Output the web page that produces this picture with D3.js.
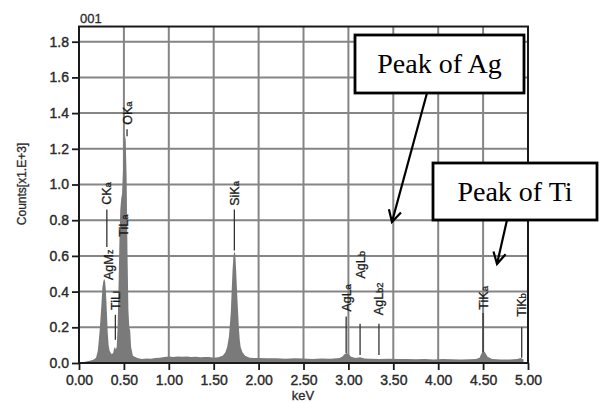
<!DOCTYPE html>
<html>
<head>
<meta charset="utf-8">
<script src="https://cdn.jsdelivr.net/npm/d3@7"></script>
<style>
  body { margin: 0; background: #fff; }
  svg { display: block; }
</style>
</head>
<body>
<div id="chart"></div>
<script>
// spectrum (keV, counts x1E+3)
const energy = [0.00, 0.04, 0.08, 0.12, 0.16, 0.19, 0.21, 0.23, 0.25, 0.26, 0.27, 0.28, 0.29, 0.30, 0.31, 0.32, 0.33, 0.34, 0.36, 0.38,
  0.39, 0.40, 0.41, 0.42, 0.43, 0.44, 0.45, 0.46, 0.47, 0.48, 0.49, 0.50, 0.51, 0.52, 0.53, 0.54, 0.55, 0.56, 0.57, 0.58,
  0.60, 0.65, 0.70, 0.75, 0.80, 0.85, 0.90, 0.95, 1.00, 1.05, 1.10, 1.15, 1.20, 1.25, 1.30, 1.35, 1.40, 1.45, 1.50, 1.55,
  1.60, 1.63, 1.65, 1.67, 1.69, 1.70, 1.71, 1.72, 1.73, 1.74, 1.75, 1.76, 1.77, 1.78, 1.79, 1.80, 1.82, 1.85, 1.90, 1.95,
  2.00, 2.10, 2.20, 2.30, 2.40, 2.50, 2.60, 2.70, 2.80, 2.90, 2.93, 2.96, 2.98, 3.00, 3.03, 3.08, 3.13, 3.18, 3.25, 3.35,
  3.45, 3.55, 3.65, 3.75, 3.85, 3.95, 4.05, 4.15, 4.25, 4.35, 4.42, 4.46, 4.48, 4.50, 4.52, 4.55, 4.60, 4.70, 4.80, 4.88,
  4.92, 4.95];
const counts = [0.000, 0.004, 0.008, 0.012, 0.018, 0.030, 0.070, 0.180, 0.330, 0.420, 0.455, 0.470, 0.460, 0.400, 0.290, 0.170, 0.100, 0.070, 0.050, 0.055,
  0.080, 0.090, 0.075, 0.090, 0.200, 0.420, 0.680, 0.860, 0.920, 0.950, 1.080, 1.220, 1.285, 1.250, 1.050, 0.620, 0.300, 0.200, 0.180, 0.090,
  0.040, 0.028, 0.022, 0.025, 0.024, 0.028, 0.030, 0.033, 0.036, 0.034, 0.037, 0.035, 0.036, 0.033, 0.035, 0.032, 0.034, 0.033, 0.030, 0.032,
  0.040, 0.060, 0.090, 0.150, 0.280, 0.400, 0.520, 0.600, 0.625, 0.610, 0.520, 0.400, 0.300, 0.200, 0.130, 0.090, 0.060, 0.040, 0.030, 0.028,
  0.028, 0.026, 0.027, 0.024, 0.026, 0.025, 0.023, 0.025, 0.024, 0.028, 0.035, 0.050, 0.055, 0.050, 0.035, 0.028, 0.032, 0.025, 0.024, 0.023,
  0.024, 0.022, 0.023, 0.021, 0.022, 0.020, 0.022, 0.021, 0.020, 0.021, 0.022, 0.030, 0.050, 0.068, 0.060, 0.035, 0.022, 0.020, 0.020, 0.022,
  0.028, 0.020];

// peak markers: name, small suffix, energy, label centre (counts), line top / bottom (counts)
const peakName   = ["CK", "AgM", "TiL", "TiL", "OK", "SiK", "AgL", "AgL", "AgL", "TiK", "TiK"];
const peakSub    = ["a", "z", "a", "l", "a", "a", "a", "b", "b2", "a", "b"];
const peakKeV    = [0.31, 0.325, 0.49, 0.405, 0.535, 1.73, 2.975, 3.13, 3.34, 4.50, 4.93];
const peakLabel  = [0.95, 0.55, 0.77, 0.35, 1.40, 0.95, 0.365, 0.55, 0.36, 0.365, 0.325];
const peakTop    = [0.86, null, null, 0.27, 1.31, 0.86, 0.26, 0.22, 0.22, 0.28, 0.20];
const peakBottom = [0.65, null, null, 0.13, 1.27, 0.63, 0.055, 0.045, 0.045, 0.06, 0.03];

const xTicks = [0, 0.5, 1, 1.5, 2, 2.5, 3, 3.5, 4, 4.5, 5];
const yTicks = [0, 0.2, 0.4, 0.6, 0.8, 1.0, 1.2, 1.4, 1.6, 1.8];

const W = 599, H = 403;
const svg = d3.select("#chart").append("svg").attr("width", W).attr("height", H);

const x = d3.scaleLinear().domain([0, 5]).range([79, 528]);
const y = d3.scaleLinear().domain([0, 1.8]).range([363, 41.7]);
const yMax = 1.885;

// grid
svg.append("g").selectAll("line").data(xTicks.slice(1, -1)).enter().append("line")
  .attr("x1", d => x(d)).attr("x2", d => x(d)).attr("y1", y(0)).attr("y2", y(yMax))
  .attr("stroke", "#858585").attr("stroke-width", 2);
svg.append("g").selectAll("line").data(yTicks.slice(1)).enter().append("line")
  .attr("x1", x(0)).attr("x2", x(5)).attr("y1", d => y(d)).attr("y2", d => y(d))
  .attr("stroke", "#858585").attr("stroke-width", 2);

// spectrum
const area = d3.area().x((d, i) => x(energy[i])).y0(y(0)).y1(d => y(d));
svg.append("path").datum(counts).attr("d", area).attr("fill", "#7a7a7a");

// peak lines and labels
const pk = svg.append("g");
peakName.forEach((n, i) => {
  const px = x(peakKeV[i]);
  if (peakTop[i] !== null) {
    pk.append("line").attr("x1", px).attr("x2", px)
      .attr("y1", y(peakTop[i])).attr("y2", y(peakBottom[i]))
      .attr("stroke", "#333").attr("stroke-width", 1.3);
  }
  const t = pk.append("text")
    .attr("transform", `translate(${px + 4.5},${y(peakLabel[i])}) rotate(-90)`)
    .attr("text-anchor", "middle")
    .style("font-family", "Liberation Sans, Arial, sans-serif")
    .style("font-size", "12.5px").style("fill", "#1a1a1a")
    .style("stroke", "#1a1a1a").style("stroke-width", 0.3);
  t.append("tspan").text(n);
  t.append("tspan").style("font-size", "9.5px").text(peakSub[i]);
});

// frame
svg.append("rect").attr("x", x(0)).attr("y", y(yMax)).attr("width", x(5) - x(0)).attr("height", y(0) - y(yMax))
  .attr("fill", "none").attr("stroke", "#1a1a1a").attr("stroke-width", 2);

// axes
const xAxis = svg.append("g").attr("transform", `translate(0,${y(0)})`)
  .call(d3.axisBottom(x).tickValues(xTicks).tickFormat(d3.format(".2f")).tickSize(7).tickPadding(5));
const yAxis = svg.append("g").attr("transform", `translate(${x(0)},0)`)
  .call(d3.axisLeft(y).tickValues(yTicks).tickFormat(d3.format(".1f")).tickSize(7).tickPadding(3));
[xAxis, yAxis].forEach(a => {
  a.select(".domain").remove();
  a.selectAll("line").attr("stroke", "#1a1a1a").attr("stroke-width", 1.8);
  a.selectAll("text").style("font-family", "Liberation Sans, Arial, sans-serif")
    .style("font-size", "14px").style("fill", "#2a2a2a")
    .style("stroke", "#2a2a2a").style("stroke-width", 0.4);
});

const label = (tx, ty, s, size, rot) => svg.append("text")
  .attr("transform", `translate(${tx},${ty})` + (rot ? " rotate(-90)" : ""))
  .attr("text-anchor", "middle")
  .style("font-family", "Liberation Sans, Arial, sans-serif")
  .style("font-size", size + "px").style("fill", "#2a2a2a")
  .style("stroke", "#2a2a2a").style("stroke-width", 0.3).text(s);
label(303, 400, "keV", 13);
label(26, 184, "Counts[x1.E+3]", 12, true);
svg.append("text").attr("x", 80).attr("y", 23).text("001")
  .style("font-family", "Liberation Sans, Arial, sans-serif").style("font-size", "13px").style("fill", "#2a2a2a")
  .style("stroke", "#2a2a2a").style("stroke-width", 0.3);

// callouts
function callout(bx, by, bw, bh, txt, from, to) {
  svg.append("rect").attr("x", bx).attr("y", by).attr("width", bw).attr("height", bh)
    .attr("fill", "#fff").attr("stroke", "#000").attr("stroke-width", 2.8);
  svg.append("text").attr("x", bx + bw / 2).attr("y", by + bh / 2 + 9).attr("text-anchor", "middle")
    .style("font-family", "Liberation Serif, Times New Roman, serif").style("font-size", "28px")
    .style("fill", "#000").text(txt);
  svg.append("line").attr("x1", from[0]).attr("y1", from[1]).attr("x2", to[0]).attr("y2", to[1])
    .attr("stroke", "#000").attr("stroke-width", 2.2);
  const ang = Math.atan2(to[1] - from[1], to[0] - from[0]);
  const L = 13, spread = 0.5;
  const p1 = [to[0] - L * Math.cos(ang - spread), to[1] - L * Math.sin(ang - spread)];
  const p2 = [to[0] - L * Math.cos(ang + spread), to[1] - L * Math.sin(ang + spread)];
  svg.append("path").attr("d", `M${p1}L${to}L${p2}`).attr("fill", "none")
    .attr("stroke", "#000").attr("stroke-width", 2.2);
}
callout(355, 35, 169, 58, "Peak of Ag", [427, 93], [x(3.485), y(0.79)]);
callout(433, 163, 164, 57, "Peak of Ti", [507, 220], [x(4.655), y(0.555)]);
</script>
</body>
</html>
